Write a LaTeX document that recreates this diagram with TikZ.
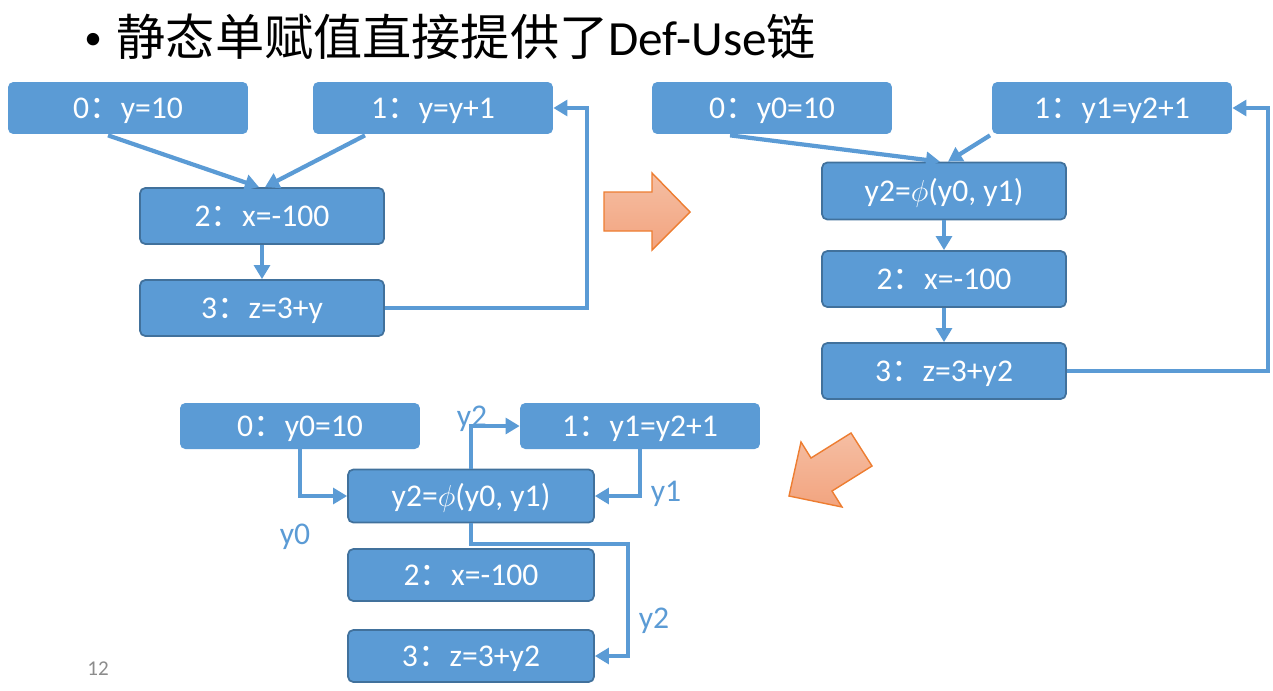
\documentclass[tikz,border=0pt]{standalone}
\usepackage{fontspec}
\setmainfont{Carlito}
\newfontfamily\cjk{Noto Sans CJK SC}
\usetikzlibrary{arrows.meta, calc}

\definecolor{boxblue}{HTML}{5B9BD5}
\definecolor{boxedge}{HTML}{41719C}
\definecolor{arrorange}{HTML}{ED7D31}
\definecolor{arrtop}{HTML}{F5BEA3}
\definecolor{arrbot}{HTML}{F2A47F}
\newcommand{\fc}{{\cjk ：}}

\begin{document}
\begin{tikzpicture}[
    x=0.02cm, y=-0.02cm,
    blk/.style={fill=boxblue, rounded corners=3pt, text=white, inner sep=0pt,
      text height=12pt, text depth=0pt,
      minimum width=4.8cm, minimum height=1.04cm, font=\fontsize{18}{20}\selectfont},
    blkb/.style={blk, draw=boxedge, line width=1pt},
    arr/.style={-{Triangle[length=8pt, width=9pt]}, line width=2.4pt, draw=boxblue},
    lbl/.style={text=boxblue, inner sep=0pt, font=\fontsize{18}{20}\selectfont},
    bigarr/.style={draw=arrorange, line width=0.8pt, top color=arrtop, bottom color=arrbot}
  ]
    \useasboundingbox (0,0) rectangle (1273,690);

    %% ── title ──
    \node[anchor=base west, inner sep=0pt, font=\fontsize{28}{32}\selectfont] (title) at (84,55)
      {\raisebox{0.12em}{\fontsize{20}{20}\selectfont •}\hspace{0.3em}{\cjk 静态单赋值直接提供了}Def-Use{\cjk 链}};

    %% ═══════ LEFT: original code ═══════
    \node[blk] (l0) at (128,108) {0\fc y=10};
    \node[blk] (l1) at (433,108) {1\fc y=y+1};
    \node[blkb, minimum width=4.88cm, minimum height=1.12cm] (l2) at (262,216) {2\fc x=-100};
    \node[blkb, minimum width=4.88cm, minimum height=1.12cm] (l3) at (262,308) {3\fc z=3+y};
    \coordinate (lret) at (587,200);

    \draw[arr] ($(l0.south)+(-20,1)$) -- ($(l2.north)+(-3,0)$);
    \draw[arr] ($(l1.south)+(-68,1)$) -- ($(l2.north)+(3,0)$);
    \draw[arr] (l2.south) -- (l3.north);
    \draw[arr] (l3.east) -| (lret) |- (l1.east);

    %% ── big arrow right ──
    \draw[bigarr] (604,192) -- (652,192) -- (652,173) -- (690,212) -- (652,250)
      -- (652,231) -- (604,231) -- cycle;

    %% ═══════ RIGHT: SSA form ═══════
    \node[blk] (r0) at (772,108) {0\fc y0=10};
    \node[blk] (r1) at (1112,108) {1\fc y1=y2+1};
    \node[blkb, minimum width=4.88cm, minimum height=1.14cm] (rphi) at (944,191) {y2=$\phi$(y0, y1)};
    \node[blkb, minimum width=4.88cm, minimum height=1.12cm] (r2) at (944,279) {2\fc x=-100};
    \node[blkb, minimum width=4.88cm, minimum height=1.12cm] (r3) at (944,371) {3\fc z=3+y2};
    \coordinate (rret) at (1268,240);

    \draw[arr] ($(r0.south)+(-42,1)$) -- ($(rphi.north)+(-4,0)$);
    \draw[arr] ($(r1.south)+(-122,1)$) -- ($(rphi.north)+(4,0)$);
    \draw[arr] (rphi.south) -- (r2.north);
    \draw[arr] (r2.south) -- (r3.north);
    \draw[arr] (r3.east) -| (rret) |- (r1.east);

    %% ── big arrow down-left ──
    \draw[bigarr] (789,496) -- (801,442) -- (811,458) -- (851,433) -- (872,466)
      -- (832,491) -- (842,507) -- cycle;

    %% ═══════ BOTTOM: def-use chains ═══════
    \node[blk, minimum height=0.92cm] (b0) at (300,426) {0\fc y0=10};
    \node[blk, minimum height=0.92cm] (b1) at (640,426) {1\fc y1=y2+1};
    \node[blkb, minimum width=4.92cm, minimum height=1.06cm] (bphi) at (471,496) {y2=$\phi$(y0, y1)};
    \node[blkb, minimum width=4.92cm, minimum height=1.04cm] (b2) at (471,575) {2\fc x=-100};
    \node[blkb, minimum width=4.92cm, minimum height=1.04cm] (b3) at (471,656) {3\fc z=3+y2};
    \coordinate (bturn) at (628,544);

    \draw[arr] (b0.south) |- (bphi.west);
    \draw[arr] (b1.south) |- (bphi.east);
    \draw[arr] (bphi.north) |- (b1.west);
    \draw[arr] (bphi.south) |- (bturn) |- (b3.east);

    \node[lbl] (ly0) at (295,537) {y0};
    \node[lbl] (ly1) at (666,494) {y1};
    \node[lbl] (ly2a) at (472,419) {y2};
    \node[lbl] (ly2b) at (654,621) {y2};

    %% ── page number ──
    \node[text=black!45, font=\fontsize{12}{14}\selectfont] (pg) at (98,669) {12};

  \end{tikzpicture}
\end{document}
